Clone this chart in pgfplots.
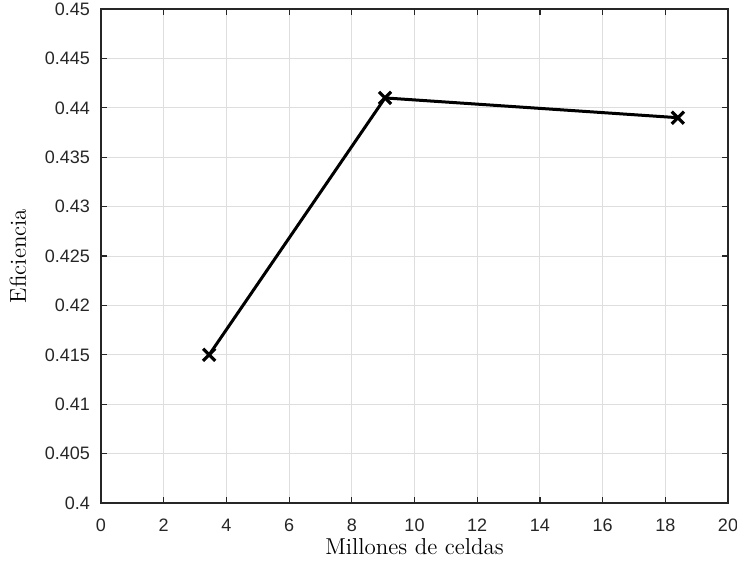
\documentclass[border=0pt]{standalone}
\usepackage{fontspec}
\newfontfamily\ticksans{Liberation Sans}
\usepackage{pgfplots}
\pgfplotsset{compat=1.18}
\definecolor{axgray}{gray}{0.15}
\definecolor{gridgray}{gray}{0.87}
\begin{document}
\begin{tikzpicture}
\begin{axis}[
  at={(0,0)}, anchor=south west,
  scale only axis, width=313.5pt, height=247pt,
  xmin=0, xmax=20, ymin=0.4, ymax=0.45,
  xtick={0,2,...,20},
  ytick={0.4,0.405,0.41,0.415,0.42,0.425,0.43,0.435,0.44,0.445,0.45},
  yticklabels={0.4,0.405,0.41,0.415,0.42,0.425,0.43,0.435,0.44,0.445,0.45},
  scaled y ticks=false,
  grid=major,
  major grid style={gridgray, line width=0.5pt},
  axis line style={axgray, line width=0.6pt},
  tick style={axgray, line width=0.6pt},
  tick align=inside,
  major tick length=3pt,
  xtick pos=both, ytick pos=both,
  tick label style={font=\fontsize{9}{10}\selectfont\ticksans, text=axgray},
  /pgf/number format/assume math mode=true,
  xticklabel style={yshift=-4.5pt},
  yticklabel style={xshift=-2pt},
  xlabel={Millones de celdas},
  ylabel={Eficiencia},
  label style={font=\fontsize{11.5}{13}\selectfont},
  xlabel style={at={(axis description cs:0.5,0)}, anchor=north, yshift=-14pt},
  ylabel style={at={(axis description cs:0,0.5)}, anchor=center, yshift=41.5pt},
]
\addplot[black, line width=1.5pt, mark=x, mark size=4.3pt, mark options={line width=1.6pt}]
  coordinates {(3.45,0.415) (9.06,0.441) (18.4,0.439)};
\end{axis}
\pgfresetboundingbox
\useasboundingbox (-50.5pt,-32.5pt) rectangle (318pt,251.5pt);
\end{tikzpicture}
\end{document}
